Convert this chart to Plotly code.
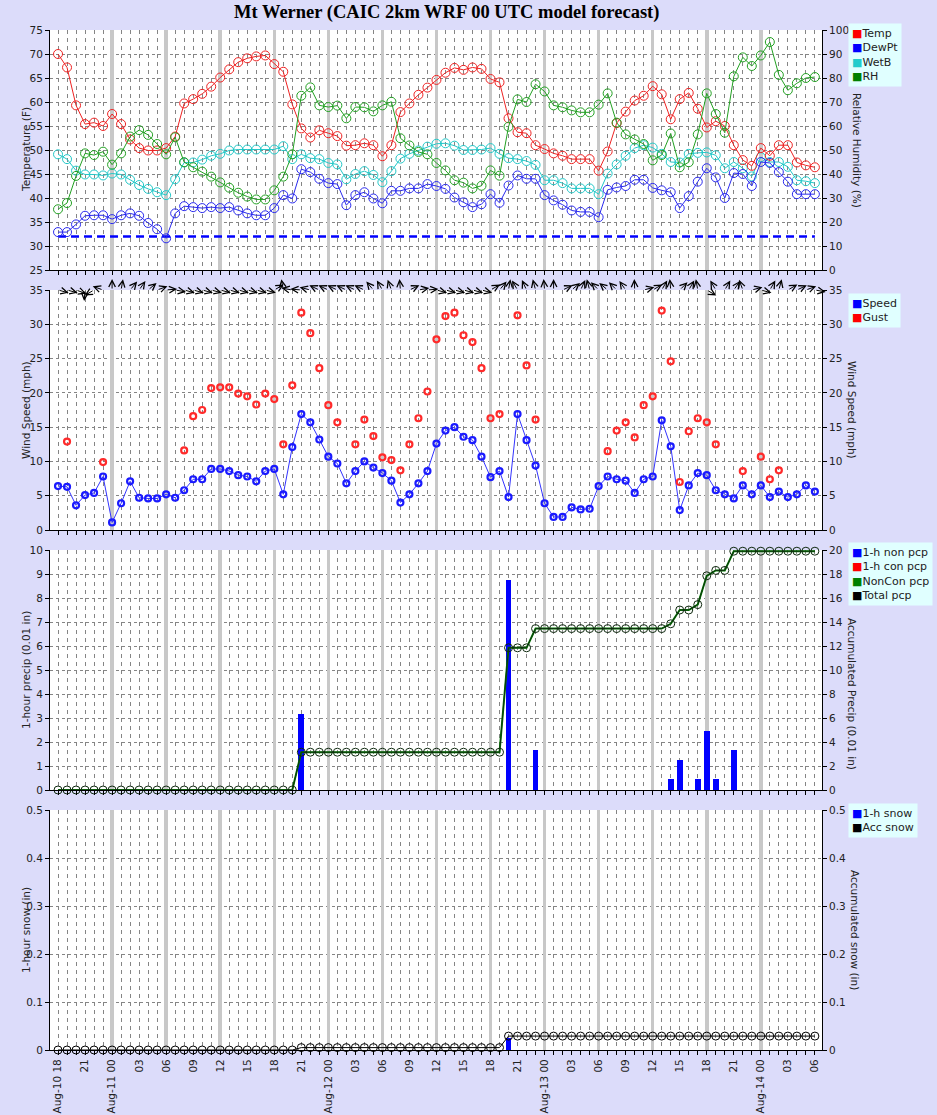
import math
import pandas as pd
import plotly.graph_objects as go
from plotly.subplots import make_subplots

# ---------------- data ----------------
hours = list(range(85))
start_time = pd.Timestamp("2023-08-10 18:00")
tick_hours = list(range(0, 85, 3))
tick_labels = []
for h in tick_hours:
    t = start_time + pd.Timedelta(hours=h)
    tick_labels.append(t.strftime("%b-%d %H") if (t.hour == 0 or h == 0) else t.strftime("%H"))
band_hours = list(range(6, 79, 6))

temp = [70.0, 67.2, 59.3, 55.4, 55.7, 55.0, 57.5, 55.4, 52.2, 50.4,
        49.9, 49.9, 50.4, 52.8, 59.7, 60.6, 61.7, 63.2, 65.1, 66.8,
        68.3, 69.1, 69.5, 69.7, 67.9, 66.3, 59.5, 54.5, 52.6, 54.1,
        53.5, 52.9, 50.9, 51.0, 51.4, 51.0, 48.7, 51.0, 57.9, 59.7,
        61.5, 63.0, 64.6, 66.1, 67.1, 66.7, 67.2, 66.9, 64.8, 64.1,
        56.6, 53.7, 53.5, 51.0, 50.2, 49.3, 48.8, 48.1, 48.1, 48.1,
        45.7, 49.7, 55.6, 58.0, 60.3, 61.3, 63.3, 61.6, 56.4, 60.6,
        61.9, 58.6, 54.7, 56.0, 55.0, 51.0, 47.9, 46.7, 50.4, 48.8,
        51.0, 51.0, 47.4, 46.8, 46.4]
dewpt = [32.9, 32.9, 34.5, 36.3, 36.4, 36.4, 35.6, 36.4, 36.8, 36.3,
         34.8, 33.5, 31.6, 36.8, 38.3, 38.1, 37.9, 38.1, 37.9, 38.1,
         37.4, 36.8, 36.4, 36.4, 37.9, 40.6, 39.9, 46.0, 45.4, 44.0,
         43.1, 42.9, 38.5, 40.6, 41.2, 39.9, 38.9, 41.5, 41.5, 42.0,
         42.0, 42.9, 42.5, 41.9, 40.1, 39.1, 38.1, 38.7, 40.8, 39.0,
         42.6, 44.7, 44.0, 44.0, 40.6, 39.5, 38.6, 37.4, 37.1, 37.1,
         36.0, 41.7, 42.2, 42.5, 43.8, 43.8, 42.1, 41.6, 41.2, 37.9,
         40.4, 43.4, 46.2, 44.3, 40.0, 45.2, 45.0, 42.5, 47.5, 47.3,
         45.4, 43.4, 40.8, 40.8, 40.8]
wetb = [49.1, 48.1, 45.7, 44.9, 44.9, 44.7, 45.1, 44.9, 43.8, 42.7,
        41.9, 41.2, 40.6, 43.9, 47.4, 47.4, 48.0, 48.8, 49.2, 49.9,
        50.1, 50.1, 50.1, 50.1, 50.1, 50.8, 48.1, 49.1, 48.3, 48.1,
        47.3, 47.0, 43.9, 45.0, 45.6, 44.8, 43.3, 45.6, 48.2, 49.2,
        49.9, 50.7, 51.3, 51.4, 50.9, 50.0, 50.0, 50.1, 50.4, 49.2,
        48.3, 48.1, 47.7, 46.9, 43.7, 43.7, 43.1, 42.0, 42.0, 42.0,
        40.8, 45.1, 47.0, 48.8, 50.4, 51.0, 50.5, 49.2, 47.5, 47.4,
        49.2, 49.4, 49.5, 48.9, 46.2, 47.5, 46.2, 44.5, 48.5, 47.5,
        47.5, 46.5, 43.7, 43.5, 43.1]
rh = [25.3, 27.9, 39.2, 48.6, 47.9, 49.3, 43.9, 48.6, 55.6, 58.3,
      56.3, 52.5, 48.2, 55.3, 44.9, 42.8, 41.0, 38.9, 36.5, 34.3,
      32.2, 30.6, 29.4, 29.4, 33.2, 38.9, 48.2, 72.6, 76.1, 68.6,
      67.9, 68.5, 63.2, 67.9, 67.8, 66.1, 68.6, 70.1, 54.9, 51.9,
      49.2, 48.2, 44.6, 41.5, 37.4, 36.4, 34.0, 35.1, 41.5, 39.3,
      59.7, 71.1, 70.0, 77.4, 74.4, 68.6, 67.8, 66.5, 65.7, 65.7,
      68.9, 73.6, 61.4, 56.5, 54.4, 52.5, 45.7, 47.9, 56.9, 42.8,
      44.9, 56.5, 73.6, 65.0, 57.2, 80.7, 88.6, 85.0, 89.4, 95.0,
      81.3, 74.9, 77.8, 80.0, 80.4]
freezing_f = 32

speed = [6.4, 6.3, 3.6, 5.1, 5.4, 7.8, 1.1, 3.9, 7.1, 4.7,
         4.6, 4.6, 5.2, 4.7, 5.8, 7.4, 7.4, 8.9, 8.9, 8.6,
         8.0, 7.8, 7.1, 8.6, 8.9, 5.2, 12.1, 16.9, 15.7, 13.2,
         10.7, 9.7, 6.8, 8.6, 10.0, 9.1, 8.3, 7.2, 4.0, 5.2,
         6.8, 8.6, 12.6, 14.5, 15.0, 13.6, 13.1, 10.7, 7.7, 8.6,
         4.8, 16.9, 13.1, 9.4, 3.9, 1.9, 1.9, 3.3, 3.0, 3.1,
         6.4, 7.8, 7.4, 7.2, 5.4, 7.4, 7.8, 16.0, 12.2, 2.9,
         6.5, 8.3, 8.0, 5.8, 5.2, 4.6, 6.5, 5.2, 6.5, 4.8,
         5.6, 4.8, 5.2, 6.5, 5.6]
gust = [None, 12.9, None, None, None, 9.9, None, None, None, None,
        None, None, None, None, 11.6, 16.6, 17.5, 20.7, 20.8, 20.8,
        19.9, 19.5, 18.3, 19.9, 19.1, 12.5, 21.1, 31.7, 28.7, 23.6,
        18.2, 15.7, None, 12.5, 16.1, 13.7, 10.6, 10.2, 8.7, 12.5,
        16.3, 20.2, 27.8, 31.2, 31.7, 28.4, 27.4, 23.6, 16.3, 16.9,
        None, 31.3, 24.0, 16.1, None, None, None, None, None, None,
        None, 11.5, 14.5, 15.7, 13.5, 18.2, 19.5, 32.0, 24.6, 7.0,
        14.4, 16.3, 15.7, 12.5, None, None, 8.6, None, 10.7, 7.4,
        8.7, None, None, None, None]
wind_dir = [285, 285, 290, 5, 60, 110, 180, 190, 220, 215,
            230, 250, 265, 280, 285, 285, 285, 285, 285, 285,
            285, 285, 285, 285, 240, 170, 100, 95, 105, 115,
            115, 115, 115, 115, 115, 140, 150, 160, 175, 245,
            260, 265, 285, 285, 285, 285, 285, 285, 240, 220,
            190, 150, 155, 165, 175, 180, 245, 230, 205, 165,
            135, 130, 135, 145, 178, 255, 240, 210, 175, 225,
            210, 170, 300, 150, 210, 215, 160, 255, 285, 210,
            195, 240, 245, 250, 280]

pcp_noncon_1h = [0, 0, 0, 0, 0, 0, 0, 0, 0, 0,
                 0, 0, 0, 0, 0, 0, 0, 0, 0, 0,
                 0, 0, 0, 0, 0, 0, 0, 3.17, 0, 0,
                 0, 0, 0, 0, 0, 0, 0, 0, 0, 0,
                 0, 0, 0, 0, 0, 0, 0, 0, 0, 0,
                 8.75, 0, 0, 1.65, 0, 0, 0, 0, 0, 0,
                 0, 0, 0, 0, 0, 0, 0, 0, 0.45, 1.25,
                 0, 0.45, 2.45, 0.45, 0, 1.65, 0, 0, 0, 0,
                 0, 0, 0, 0, 0]
pcp_con_1h = [0, 0, 0, 0, 0, 0, 0, 0, 0, 0,
              0, 0, 0, 0, 0, 0, 0, 0, 0, 0,
              0, 0, 0, 0, 0, 0, 0, 0, 0, 0,
              0, 0, 0, 0, 0, 0, 0, 0, 0, 0,
              0, 0, 0, 0, 0, 0, 0, 0, 0, 0,
              0, 0, 0, 0, 0, 0, 0, 0, 0, 0,
              0, 0, 0, 0, 0, 0, 0, 0, 0, 0,
              0, 0, 0, 0, 0, 0, 0, 0, 0, 0,
              0, 0, 0, 0, 0]
pcp_total_acc = [0, 0, 0, 0, 0, 0, 0, 0, 0, 0,
                 0, 0, 0, 0, 0, 0, 0, 0, 0, 0,
                 0, 0, 0, 0, 0, 0, 0, 3.15, 3.15, 3.15,
                 3.15, 3.15, 3.15, 3.15, 3.15, 3.15, 3.15, 3.15, 3.15, 3.15,
                 3.15, 3.15, 3.15, 3.15, 3.15, 3.15, 3.15, 3.15, 3.15, 3.15,
                 11.85, 11.85, 11.85, 13.45, 13.45, 13.45, 13.45, 13.45, 13.45, 13.45,
                 13.45, 13.45, 13.45, 13.45, 13.45, 13.45, 13.45, 13.45, 13.85, 15.0,
                 15.0, 15.45, 17.85, 18.3, 18.3, 19.9, 19.9, 19.9, 19.9, 19.9,
                 19.9, 19.9, 19.9, 19.9, 19.9]
pcp_noncon_acc = list(pcp_total_acc)

snow_1h = [0, 0, 0, 0, 0, 0, 0, 0, 0, 0,
           0, 0, 0, 0, 0, 0, 0, 0, 0, 0,
           0, 0, 0, 0, 0, 0, 0, 0, 0, 0,
           0, 0, 0, 0, 0, 0, 0, 0, 0, 0,
           0, 0, 0, 0, 0, 0, 0, 0, 0, 0,
           0.026, 0, 0, 0, 0, 0, 0, 0, 0, 0,
           0, 0, 0, 0, 0, 0, 0, 0, 0, 0,
           0, 0, 0, 0, 0, 0, 0, 0, 0, 0,
           0, 0, 0, 0, 0]
snow_acc = [0, 0, 0, 0, 0, 0, 0, 0, 0, 0,
            0, 0, 0, 0, 0, 0, 0, 0, 0, 0,
            0, 0, 0, 0, 0, 0, 0, 0.005, 0.005, 0.005,
            0.005, 0.005, 0.005, 0.005, 0.005, 0.005, 0.005, 0.005, 0.005, 0.005,
            0.005, 0.005, 0.005, 0.005, 0.005, 0.005, 0.005, 0.005, 0.005, 0.005,
            0.029, 0.029, 0.029, 0.029, 0.029, 0.029, 0.029, 0.029, 0.029, 0.029,
            0.029, 0.029, 0.029, 0.029, 0.029, 0.029, 0.029, 0.029, 0.029, 0.029,
            0.029, 0.029, 0.029, 0.029, 0.029, 0.029, 0.029, 0.029, 0.029, 0.029,
            0.029, 0.029, 0.029, 0.029, 0.029]

# ---------------- styling ----------------
W, H = 937, 1115
ML, MR, MT, MB = 50, 115, 30, 65
PW = W - ML - MR
PH = H - MT - MB
XR = [-0.89, 84.79]
BG = "#dcdcfa"
SANS = "DejaVu Sans"
FS = 10.5
GRIDC = "#858585"
Y_RANGES = [[25, 75], [0, 35], [0, 10], [0, 0.5]]
px_per_hr = PW / (XR[1] - XR[0])

C_TEMP, C_DEW, C_WET, C_RH = "#ee2222", "#2a2aee", "#22c8c8", "#22a022"

fig = make_subplots(rows=4, cols=1, shared_xaxes=True,
                    specs=[[{"secondary_y": True}]] * 4,
                    vertical_spacing=20 / PH)

def circ(color, size=9, lw=1):
    return dict(symbol="circle-open", size=size, color=color, line=dict(width=lw, color=color))

# gray 6-hourly bands: drawn first (as thin bars) so they sit above the grid but under the data
for r, (lo, hi) in enumerate(Y_RANGES, start=1):
    fig.add_trace(go.Bar(x=band_hours, y=[hi - lo] * len(band_hours), base=lo,
                         width=3.5 / px_per_hr, hoverinfo="skip",
                         marker=dict(color="#c8c8c8", line=dict(width=0))),
                  row=r, col=1, secondary_y=False)

# panel 1
fig.add_trace(go.Scatter(x=hours, y=[freezing_f] * len(hours), mode="lines",
                         line=dict(color="#0000ff", width=2.5, dash="8px,5px"), hoverinfo="skip"),
              row=1, col=1, secondary_y=False)
fig.add_trace(go.Scatter(x=hours, y=rh, mode="lines+markers", name="RH",
                         line=dict(color=C_RH, width=1), marker=circ(C_RH)),
              row=1, col=1, secondary_y=True)
fig.add_trace(go.Scatter(x=hours, y=wetb, mode="lines+markers", name="WetB",
                         line=dict(color=C_WET, width=1), marker=circ(C_WET)),
              row=1, col=1, secondary_y=False)
fig.add_trace(go.Scatter(x=hours, y=dewpt, mode="lines+markers", name="DewPt",
                         line=dict(color=C_DEW, width=1), marker=circ(C_DEW)),
              row=1, col=1, secondary_y=False)
fig.add_trace(go.Scatter(x=hours, y=temp, mode="lines+markers", name="Temp",
                         line=dict(color=C_TEMP, width=1), marker=circ(C_TEMP)),
              row=1, col=1, secondary_y=False)

# panel 2
fig.add_trace(go.Scatter(x=hours, y=speed, mode="lines+markers", name="Speed",
                         line=dict(color="#3333ff", width=1), marker=circ("#1a1aff", 6, 2.2)),
              row=2, col=1, secondary_y=False)
fig.add_trace(go.Scatter(x=hours, y=gust, mode="markers", name="Gust",
                         marker=circ("#ff2a2a", 6, 2.2)),
              row=2, col=1, secondary_y=True)

# panel 3
fig.add_trace(go.Bar(x=hours, y=pcp_noncon_1h, name="1-h non pcp", width=0.63,
                     marker=dict(color="#0000ff", line=dict(width=0))),
              row=3, col=1, secondary_y=False)
fig.add_trace(go.Bar(x=hours, y=pcp_con_1h, name="1-h con pcp", width=0.63,
                     marker=dict(color="#ff0000", line=dict(width=0))),
              row=3, col=1, secondary_y=False)
fig.add_trace(go.Scatter(x=hours, y=pcp_noncon_acc, mode="lines", name="NonCon pcp",
                         line=dict(color="#008000", width=2), cliponaxis=False),
              row=3, col=1, secondary_y=True)
fig.add_trace(go.Scatter(x=hours, y=pcp_total_acc, mode="lines+markers", name="Total pcp",
                         line=dict(color="#103010", width=1), marker=circ("#102a10", 8, 1),
                         cliponaxis=False),
              row=3, col=1, secondary_y=True)

# panel 4
fig.add_trace(go.Bar(x=hours, y=snow_1h, name="1-h snow", width=0.63,
                     marker=dict(color="#0000ff", line=dict(width=0))),
              row=4, col=1, secondary_y=False)
fig.add_trace(go.Scatter(x=hours, y=snow_acc, mode="lines+markers", name="Acc snow",
                         line=dict(color="#000000", width=1), marker=circ("#000000", 8, 1),
                         cliponaxis=False),
              row=4, col=1, secondary_y=True)

fig.update_traces(showlegend=False)

# axes
yl = dict(showline=True, linecolor="black", linewidth=1, ticks="outside", ticklen=4,
          tickcolor="black", tickfont=dict(family=SANS, size=FS, color="#222"),
          showgrid=True, gridcolor=GRIDC, gridwidth=1, griddash="3px,3px",
          zeroline=False, automargin=False)
yr = dict(showline=True, linecolor="black", linewidth=1, ticks="outside", ticklen=4,
          tickcolor="black", tickfont=dict(family=SANS, size=FS, color="#222"),
          showgrid=False, zeroline=False, automargin=False)
fig.update_yaxes(range=Y_RANGES[0], dtick=5, tick0=0, **yl, row=1, col=1, secondary_y=False)
fig.update_yaxes(range=[0, 100], dtick=10, tick0=0, **yr, row=1, col=1, secondary_y=True)
fig.update_yaxes(range=Y_RANGES[1], dtick=5, tick0=0, **yl, row=2, col=1, secondary_y=False)
fig.update_yaxes(range=[0, 35], dtick=5, tick0=0, **yr, row=2, col=1, secondary_y=True)
fig.update_yaxes(range=Y_RANGES[2], dtick=1, tick0=0, **yl, row=3, col=1, secondary_y=False)
fig.update_yaxes(range=[0, 20], dtick=2, tick0=0, **yr, row=3, col=1, secondary_y=True)
fig.update_yaxes(range=Y_RANGES[3], dtick=0.1, tick0=0, **yl, row=4, col=1, secondary_y=False)
fig.update_yaxes(range=[0, 0.5], dtick=0.1, tick0=0, **yr, row=4, col=1, secondary_y=True)

fig.update_xaxes(domain=[0, 1], range=XR, showline=True, linecolor="black", linewidth=1,
                 ticks="outside", ticklen=4, tickcolor="black",
                 tickmode="array", tickvals=tick_hours, ticktext=tick_labels,
                 tickangle=-90, tickfont=dict(family=SANS, size=FS, color="#222"),
                 showgrid=True, gridcolor=GRIDC, gridwidth=1, griddash="4px,4px",
                 minor=dict(dtick=1, tick0=0, ticks="outside", ticklen=4, tickcolor="black",
                            showgrid=True, gridcolor=GRIDC, gridwidth=1, griddash="4px,4px"),
                 zeroline=False, automargin=False)
for r in (1, 2, 3):
    fig.update_xaxes(showticklabels=False, row=r, col=1)

# wind direction arrows at top of wind panel
px_per_mph = 240 / 35.0
ARROW_LEN = 11
for h, d in zip(hours, wind_dir):
    th = math.radians(270 - d)
    hx = h + ARROW_LEN * math.cos(th) / px_per_hr
    hy = 35 + ARROW_LEN * math.sin(th) / px_per_mph
    fig.add_annotation(x=hx, y=hy, ax=h, ay=35, xref="x2", yref="y3", axref="x2", ayref="y3",
                       text="", showarrow=True, arrowhead=5, arrowsize=1.3, arrowwidth=1,
                       arrowcolor="black", standoff=0, startstandoff=0)

def px2paper(px, py):
    return (px - ML) / PW, (H - MB - py) / PH

def add_text(px, py, text, angle=0, size=FS, **kw):
    x, y = px2paper(px, py)
    fig.add_annotation(x=x, y=y, xref="paper", yref="paper", text=text, showarrow=False,
                       textangle=angle, font=dict(family=SANS, size=size, color="#222"),
                       xanchor=kw.get("xanchor", "center"), yanchor=kw.get("yanchor", "middle"),
                       align=kw.get("align", "center"), bgcolor=kw.get("bgcolor"),
                       borderpad=kw.get("borderpad", 0))

# axis titles
left_titles = ["Temperature (F)", "Wind Speed (mph)", "1-hour precip (0.01 in)", "1-hour snow (in)"]
right_titles = ["Relative Humidity (%)", "Wind Speed (mph)", "Accumulated Precip (0.01 in)", "Accumulated snow (in)"]
left_cy = [150, 410, 670, 930]
right_cy = [150, 410, 694, 930]
right_x = [857, 852, 852, 855]
for lt, rt, lcy, rcy, rx in zip(left_titles, right_titles, left_cy, right_cy, right_x):
    add_text(26, lcy, lt, angle=-90)
    add_text(rx, rcy, rt, angle=90)

# legends
def legend(px, py, items):
    lines = ["<span style='color:%s'>■</span>%s" % (c, n) for n, c in items]
    add_text(px, py, "<br>".join(lines), size=11, xanchor="left", yanchor="top",
             align="left", bgcolor="#e0ffff", borderpad=3)

legend(848, 23, [("Temp", "#ff0000"), ("DewPt", "#0000ff"), ("WetB", "#22cccc"), ("RH", "#008000")])
legend(848, 293, [("Speed", "#0000ff"), ("Gust", "#ff0000")])
legend(848, 542, [("1-h non pcp", "#0000ff"), ("1-h con pcp", "#ff0000"),
                  ("NonCon pcp", "#008000"), ("Total pcp", "#000000")])
legend(848, 803, [("1-h snow", "#0000ff"), ("Acc snow", "#000000")])

# title
tx, ty = px2paper(446, 12)
fig.add_annotation(x=tx, y=ty, xref="paper", yref="paper", showarrow=False,
                   text="<b>Mt Werner (CAIC 2km WRF 00 UTC model forecast)</b>",
                   font=dict(family="Liberation Serif", size=18.5, color="black"),
                   xanchor="center", yanchor="middle")

fig.update_layout(width=W, height=H,
                  margin=dict(l=ML, r=MR, t=MT, b=MB, pad=0, autoexpand=False),
                  paper_bgcolor=BG, plot_bgcolor="white", showlegend=False,
                  barmode="overlay", bargap=0)

fig.write_html("out.html", config={"displayModeBar": False},
               post_script="document.body.style.margin='0';"
                           "document.body.style.background='%s';"
                           "document.documentElement.style.overflow='hidden';" % BG)
